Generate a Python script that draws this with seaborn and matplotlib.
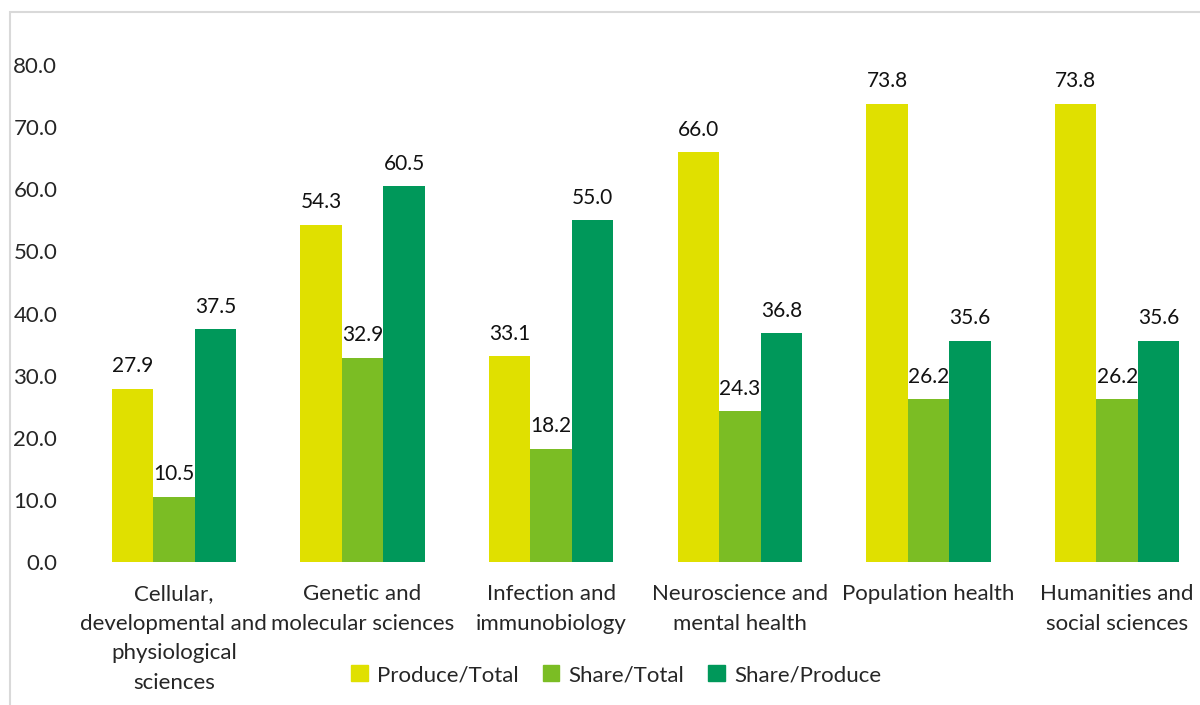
import matplotlib
matplotlib.use("Agg")
import matplotlib.pyplot as plt
import seaborn as sns
import pandas as pd
from matplotlib.patches import Rectangle

categories = ["Cellular,\ndevelopmental and\nphysiological\nsciences",
              "Genetic and\nmolecular sciences",
              "Infection and\nimmunobiology",
              "Neuroscience and\nmental health",
              "Population health",
              "Humanities and\nsocial sciences"]
series = ["Produce/Total", "Share/Total", "Share/Produce"]
produce_total = [27.9, 54.3, 33.1, 66.0, 73.8, 73.8]
share_total = [10.5, 32.9, 18.2, 24.3, 26.2, 26.2]
share_produce = [37.5, 60.5, 55.0, 36.8, 35.6, 35.6]
yticks = [0, 10, 20, 30, 40, 50, 60, 70, 80]
colors = ["#E0E000", "#7BBD24", "#00985A"]

rows = []
for name, vals in zip(series, [produce_total, share_total, share_produce]):
    for c, v in zip(categories, vals):
        rows.append({"category": c, "series": name, "value": v})
df = pd.DataFrame(rows)

sns.set_style("white")
plt.rcParams['font.family'] = ['Lato', 'DejaVu Sans']

fig = plt.figure(figsize=(12, 7.05), dpi=100)
ax = fig.add_axes([79.5/1200, 143/705, 1132/1200, 528/705])
sns.barplot(data=df, x="category", y="value", hue="series", order=categories,
            hue_order=series, palette=colors, width=0.66, saturation=1,
            edgecolor="none", ax=ax, legend=False)

for cont in ax.containers:
    ax.bar_label(cont, fmt="%.1f", padding=9, fontsize=15, color="#111111")

ax.set_ylim(0, 85)
ax.set_yticks(yticks)
ax.set_yticklabels([f"{t:.1f}" for t in yticks], fontsize=16)
ax.tick_params(axis="x", labelsize=16, length=0, pad=16)
for lbl in ax.get_xticklabels():
    lbl.set_linespacing(1.6)
ax.tick_params(axis="y", length=0, pad=16)
ax.set_xlabel("")
ax.set_ylabel("")
for s in ax.spines.values():
    s.set_visible(False)

handles = [Rectangle((0, 0), 1, 1, color=c) for c in colors]
fig.legend(handles, series, loc="center", bbox_to_anchor=(616/1200, 1 - 675/705),
           ncol=3, frameon=False, fontsize=16, handlelength=0.75, handleheight=0.75,
           handletextpad=0.4, columnspacing=1.1)

fig.patches.append(Rectangle((10/1200, -0.1), 1.2, 0.1 + (705-12)/705,
                             transform=fig.transFigure, fill=False,
                             edgecolor="#D9D9D9", linewidth=1.5, figure=fig))

fig.savefig("out.png", dpi=100)
